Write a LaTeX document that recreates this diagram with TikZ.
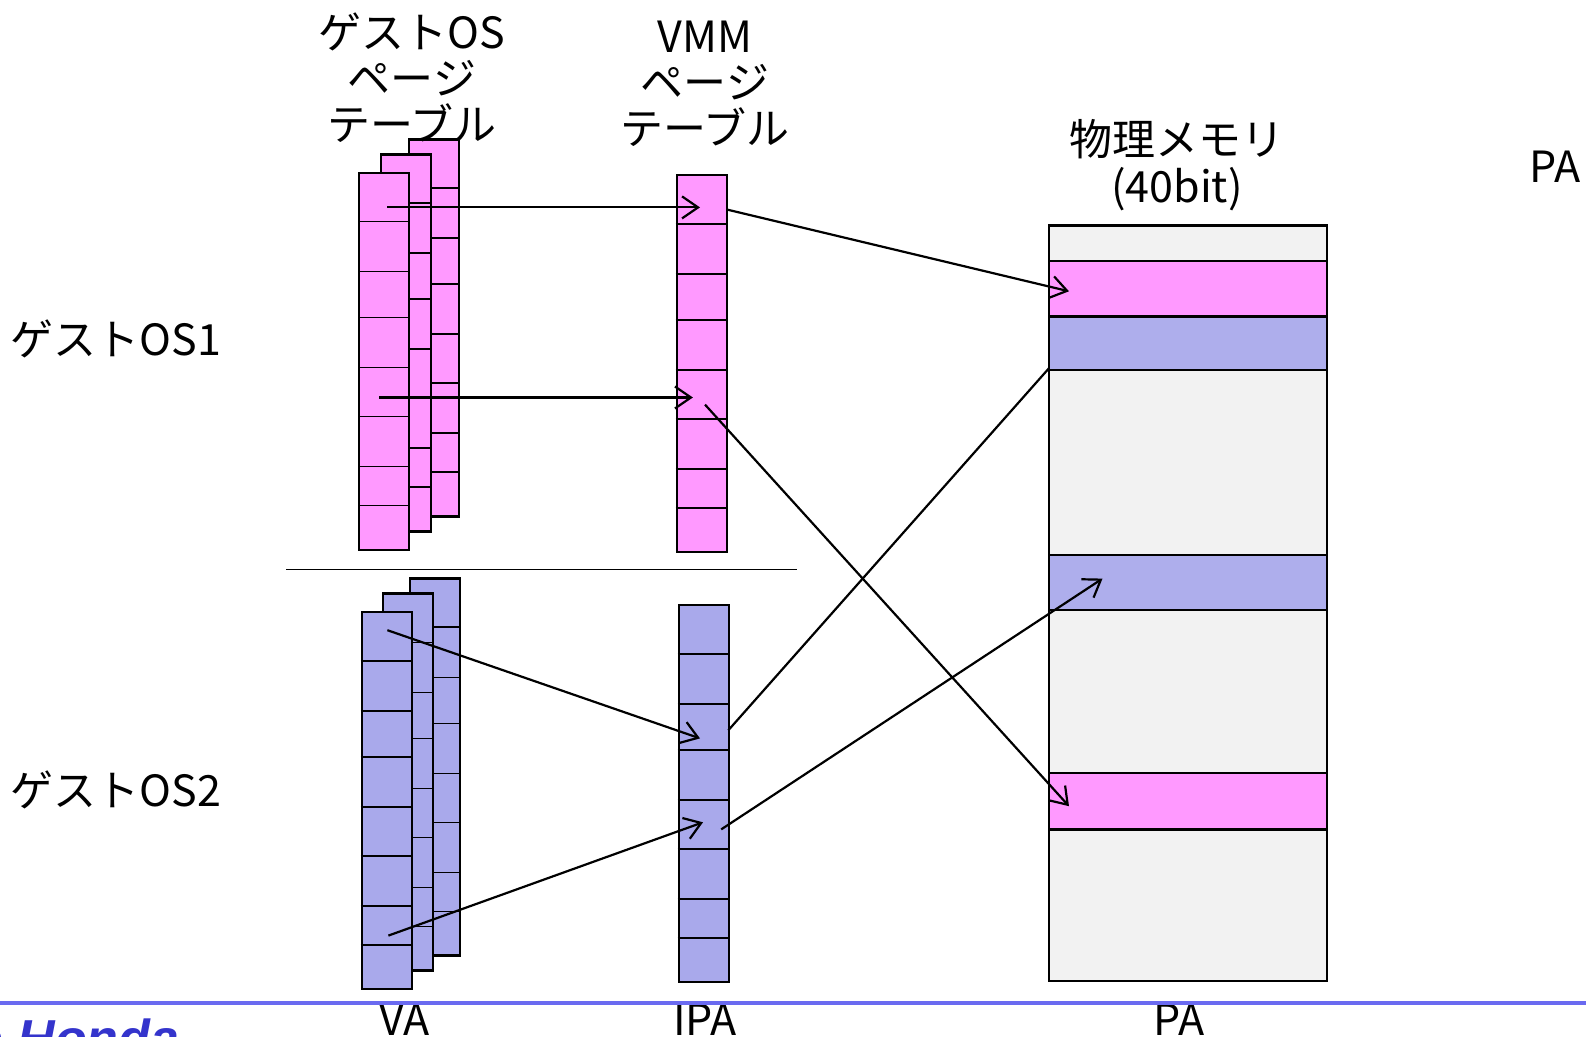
\documentclass[tikz,border=0pt]{standalone}
\usepackage{fontspec}
\setmainfont{Noto Sans CJK JP}
\newfontfamily\hondafont{Liberation Sans}
\usetikzlibrary{arrows.meta}
\definecolor{pinkc}{HTML}{FF99FF}
\definecolor{bluec}{HTML}{A9A9EB}
\definecolor{bandblue}{HTML}{AEAEEC}
\definecolor{memgray}{HTML}{F2F2F2}
\definecolor{footline}{HTML}{6A6AF0}
\definecolor{hondablue}{HTML}{3434CC}
\tikzset{
  colbox/.style={draw=black, line width=1.2pt, minimum width=25pt, minimum height=188.5pt, inner sep=0pt, anchor=north west},
  divline/.style={line width=0.8pt},
  arr/.style={line width=1.1pt, -{Straight Barb[length=8pt,width=11pt,line width=1.1pt]}},
  plainline/.style={line width=1.1pt},
  lbl/.style={font=\fontsize{21.5}{23}\selectfont, align=center, inner sep=0pt},
  membox/.style={draw=black, line width=1.2pt, fill=memgray},
  band/.style={draw=black, line width=1.2pt}
}
\newcommand\ptcol[4]{%
  \node[colbox, fill=#4] (#1) at (#2,#3) {};
  \foreach \d in {50,100,146,196,245,295,334} {\draw[divline] (#2,#3+\d) -- ++(50,0);}
}
\begin{document}
\begin{tikzpicture}[x=0.5pt,y=-0.5pt]
\useasboundingbox (0,0) rectangle (1586,1037);
% guest OS1 page tables
\ptcol{g1c}{407.7}{138.3}{pinkc}
\ptcol{g1b}{380}{153.3}{pinkc}
\ptcol{g1a}{358}{171.7}{pinkc}
% guest OS2 page tables
\ptcol{g2c}{409}{577.3}{bluec}
\ptcol{g2b}{381.7}{592.3}{bluec}
\ptcol{g2a}{360.7}{610.7}{bluec}
% VMM page tables
\ptcol{vmm1}{675.7}{174}{pinkc}
\ptcol{vmm2}{677.7}{603.9}{bluec}
% separator
\coordinate (sepL) at (286,569.5);
\coordinate (sepR) at (797,569.5);
\draw[line width=0.6pt] (sepL) -- (sepR);
% physical memory
\draw[membox] (1049,225.6) rectangle (1327,981.2);
\draw[band, fill=pinkc] (1049,261) rectangle (1327,316.6);
\draw[band, fill=bandblue] (1049,316.6) rectangle (1327,370.2);
\draw[band, fill=bandblue] (1049,555.3) rectangle (1327,610);
\draw[band, fill=pinkc] (1049,772.8) rectangle (1327,829.4);
% arrow endpoints
\coordinate (p1s) at (387.4,207.4); \coordinate (p1e) at (700,207.4);
\coordinate (p2s) at (726.3,209.4); \coordinate (p2e) at (1069,291.3);
\coordinate (p3s) at (379.3,397.5); \coordinate (p3e) at (692.9,397.5);
\coordinate (p4s) at (705,404.6);   \coordinate (p4e) at (1069,806.2);
\coordinate (p5s) at (387.4,630.2); \coordinate (p5e) at (700,738.4);
\coordinate (p6s) at (728.3,730.3); \coordinate (p6e) at (1049,368.2);
\coordinate (p7s) at (388.4,935.6); \coordinate (p7e) at (703,822.3);
\coordinate (p8s) at (721.2,829.4); \coordinate (p8e) at (1102.5,578.6);
\draw[arr] (p1s) -- (p1e);
\draw[arr] (p2s) -- (p2e);
\draw[arr] (p3s) -- (p3e);
\draw[arr] (p4s) -- (p4e);
\draw[arr] (p5s) -- (p5e);
\draw[plainline] (p6s) -- (p6e);
\draw[arr] (p7s) -- (p7e);
\draw[arr] (p8s) -- (p8e);
% labels
\node[lbl] (tg) at (412,78) {ゲストOS\\ページ\\テーブル};
\node[lbl] (tv) at (705,84) {VMM\\ページ\\テーブル};
\node[lbl, font=\fontsize{21.5}{23.5}\selectfont] (tm) at (1177,165) {物理メモリ\\(40bit)};
\node[lbl] (tpa) at (1555,167) {PA};
\node[lbl] (os1) at (116,339) {ゲストOS1};
\node[lbl] (os2) at (116,790) {ゲストOS2};
\node[lbl, anchor=base] (bva) at (404.6,1035) {VA};
\node[lbl, anchor=base] (bipa) at (705,1035) {IPA};
\node[lbl, anchor=base] (bpa) at (1179,1035) {PA};
% footer
\coordinate (fl) at (0,1003.2);
\coordinate (fr) at (1586,1003.2);
\draw[footline, line width=2pt] (fl) -- (fr);
\node[anchor=base west, inner sep=0pt, text=hondablue, font=\hondafont\bfseries\itshape\fontsize{26}{28}\selectfont] (honda) at (-29,1056) {o Honda};
\end{tikzpicture}
\end{document}
